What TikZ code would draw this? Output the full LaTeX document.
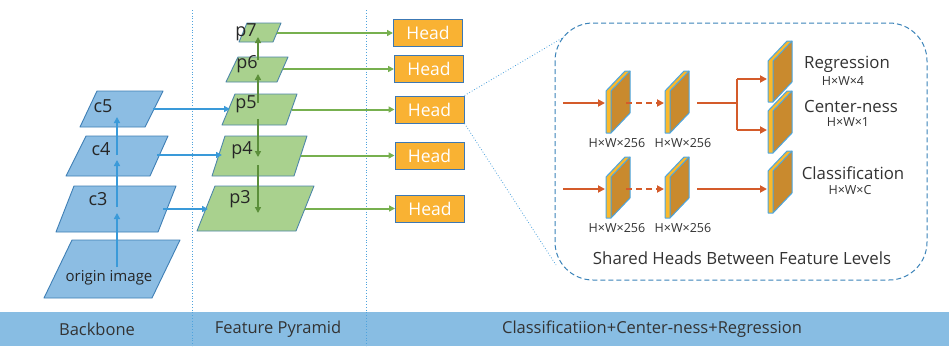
\documentclass[tikz,border=0pt]{standalone}
\usepackage{fontspec}
\setmainfont{Open Sans}
\usetikzlibrary{arrows.meta}
\definecolor{cfill}{HTML}{8CBDE3}
\definecolor{cedge}{HTML}{3F7FB5}
\definecolor{pfill}{HTML}{A9D18E}
\definecolor{pedge}{HTML}{4E87A8}
\definecolor{barrow}{HTML}{3A9AD9}
\definecolor{garrow}{HTML}{77B04F}
\definecolor{gdark}{HTML}{5B8F3A}
\definecolor{headfill}{HTML}{F9B233}
\definecolor{headedge}{HTML}{3C78B4}
\definecolor{oarrow}{HTML}{D45B2A}
\definecolor{slabY}{HTML}{FBB92B}
\definecolor{slabB}{HTML}{C98A2E}
\definecolor{slabE}{HTML}{4BA5E0}
\definecolor{band}{HTML}{88BDE3}
\definecolor{sep}{HTML}{4FA3DD}
\definecolor{boxc}{HTML}{3B83B9}
\definecolor{txt}{HTML}{333333}
\newcommand{\featmap}[4]{% name, x, y (front top-left), height
  \fill[slabB] (#2+5,#3) -- (#2+24,#3-20) -- (#2+24,#3+#4-20) -- (#2+5,#3+#4) -- cycle;
  \fill[slabY] (#2,#3) rectangle (#2+5,#3+#4);
  \fill[slabY] (#2,#3) -- (#2+5,#3) -- (#2+24,#3-20) -- (#2+19,#3-20) -- cycle;
  \draw[slabE,line width=1pt,line join=round] (#2,#3+#4) -- (#2,#3) -- (#2+19,#3-20) -- (#2+24,#3-20) -- (#2+24,#3+#4-20) -- (#2+5,#3+#4) -- cycle;
  \draw[slabE,line width=1pt] (#2+5,#3+#4) -- (#2+5,#3) -- (#2+24,#3-20);
  \coordinate (#1) at (#2,#3);
}
\tikzset{
  cpar/.style={fill=cfill,draw=cedge,line width=0.9pt,line join=round},
  ppar/.style={fill=pfill,draw=pedge,line width=0.9pt,line join=round},
  lbl/.style={font=\fontsize{18}{18}\selectfont,text=black!85,inner sep=0pt},
  blue arrow/.style={barrow,line width=1.8pt,-{Triangle[length=6pt,width=6pt]}},
  green arrow/.style={gdark,line width=1.8pt,-{Triangle[length=6pt,width=6pt]}},
  green line/.style={garrow,line width=2pt,-{Triangle[length=6pt,width=6pt]}},
  headbox/.style={rectangle,fill=headfill,draw=headedge,line width=1pt,minimum width=69pt,minimum height=27pt,inner sep=0pt,text=white,font=\fontsize{17.5}{17.5}\selectfont},
  orange arrow/.style={oarrow,line width=2pt,-{Triangle[length=7pt,width=7pt]}},
  dimlbl/.style={font=\fontsize{12.5}{12.5}\selectfont,text=txt,inner sep=0pt},
  outlbl/.style={font=\fontsize{16.8}{16.8}\selectfont,text=txt,inner sep=0pt},
  bandlbl/.style={font=\fontsize{16.5}{16.5}\selectfont,text=txt,inner sep=0pt},
}
\begin{document}
\begin{tikzpicture}[x=1pt,y=-1pt]
\useasboundingbox (0,0) rectangle (949,346);
\fill[white] (0,0) rectangle (949,346);
% band
\fill[band] (0,312) rectangle (949,346);
\node[bandlbl] (bb) at (97,329) {Backbone};
\node[bandlbl] (bfp) at (278,329) {Feature Pyramid};
\node[bandlbl] (bcl) at (652,329) {Classificatiion+Center-ness+Regression};
% separators
\draw[sep,line width=0.8pt,dotted] (192,10) -- (192,346);
\draw[sep,line width=0.8pt,dotted] (366,10) -- (366,346);
% backbone
\draw[cpar] (44,298) -- (152,298) -- (180,240) -- (72,240) -- cycle;
\draw[cpar] (56,232) -- (158,232) -- (176,186) -- (74,186) -- cycle;
\draw[cpar] (66,176) -- (150,176) -- (168,136) -- (86,136) -- cycle;
\draw[cpar] (80,127) -- (145,127) -- (163,91) -- (97,91) -- cycle;
\node[lbl,font=\fontsize{15}{15}\selectfont] (oi) at (109,278) {origin image};
\node[lbl] (c3) at (98,199) {c3};
\node[lbl] (c4) at (101,149) {c4};
\node[lbl] (c5) at (103,106) {c5};
% pyramid
\draw[ppar] (197,231) -- (296,231) -- (314,186) -- (215,186) -- cycle;
\draw[ppar] (212,176) -- (294,176) -- (307,136) -- (225,136) -- cycle;
\draw[ppar] (222,125) -- (286,125) -- (297,94) -- (235,94) -- cycle;
\draw[ppar] (226,82) -- (277,82) -- (288,57) -- (238,57) -- cycle;
\draw[ppar] (239,42) -- (273,42) -- (281,23) -- (247,23) -- cycle;
\node[lbl] (p3) at (240,199) {p3};
\node[lbl] (p4) at (242,150) {p4};
\node[lbl] (p5) at (246,104) {p5};
\node[lbl] (p6) at (247,64) {p6};
\node[lbl] (p7) at (246,32) {p7};
% backbone arrows
\coordinate (oa) at (117,267); \coordinate (oat) at (117,213);
\coordinate (c3a) at (117,207); \coordinate (c3t) at (117,160);
\coordinate (c4a) at (117,155); \coordinate (c4t) at (117,117);
\draw[blue arrow] (oa) -- (oat);
\draw[blue arrow] (c3a) -- (c3t);
\draw[blue arrow] (c4a) -- (c4t);
\coordinate (c5r) at (153,109); \coordinate (p5l) at (230,109);
\coordinate (c4r) at (157,155); \coordinate (p4l) at (222,155);
\coordinate (c3r) at (163,209); \coordinate (p3l) at (208,209);
\draw[blue arrow] (c5r) -- (p5l);
\draw[blue arrow] (c4r) -- (p4l);
\draw[blue arrow] (c3r) -- (p3l);
% pyramid arrows
\coordinate (g1) at (258,103); \coordinate (g1t) at (258,74);
\coordinate (g2) at (258,60); \coordinate (g2t) at (258,37);
\coordinate (g3) at (258,119); \coordinate (g3t) at (258,157);
\coordinate (g4) at (258,165); \coordinate (g4t) at (258,213);
\draw[green arrow] (g1) -- (g1t);
\draw[green arrow] (g2) -- (g2t);
\draw[green arrow] (g3) -- (g3t);
\draw[green arrow] (g4) -- (g4t);
% heads
\node[headbox] (hd7) at (428,33) {Head};
\node[headbox] (hd6) at (429,69) {Head};
\node[headbox] (hd5) at (429.5,109.5) {Head};
\node[headbox] (hd4) at (429.5,155.5) {Head};
\node[headbox] (hd3) at (430,208.5) {Head};
\coordinate (p7r) at (277,33); \coordinate (p6r) at (283,69);
\coordinate (p5r) at (292,109.5); \coordinate (p4r) at (301,155.5);
\coordinate (p3r) at (305,208.5);
\draw[green line] (p7r) -- (hd7.west);
\draw[green line] (p6r) -- (hd6.west);
\draw[green line] (p5r) -- (hd5.west);
\draw[green line] (p4r) -- (hd4.west);
\draw[green line] (p3r) -- (hd3.west);
% zoom lines
\coordinate (ztl) at (564,37); \coordinate (zbl) at (556,265);
\draw[sep,line width=0.8pt,dotted] (hd5.north east) -- (ztl);
\draw[sep,line width=0.8pt,dotted] (hd5.south east) -- (zbl);
% shared head box
\draw[boxc,line width=1pt,dash pattern=on 5pt off 3pt,rounded corners=38pt] (555,23) rectangle (927,280);
% feature maps
\featmap{s11}{606}{91}{42}
\featmap{s12}{665}{91}{42}
\featmap{s21}{606}{177}{41}
\featmap{s22}{665}{177}{41}
\featmap{oreg}{768}{61}{41}
\featmap{octr}{768}{111}{42}
\featmap{ocls}{768}{171}{42}
% orange arrows row 1
\coordinate (in1) at (563,103); \coordinate (t11) at (605,103);
\coordinate (d1) at (626,103); \coordinate (t12) at (664,103);
\coordinate (o1) at (697,103); \coordinate (br1) at (737,103);
\coordinate (br1u) at (737,79); \coordinate (br1d) at (737,130);
\coordinate (treg) at (767,79); \coordinate (tctr) at (767,130);
\draw[orange arrow] (in1) -- (t11);
\draw[orange arrow,dash pattern=on 6pt off 4pt] (d1) -- (t12);
\draw[oarrow,line width=2pt] (o1) -- (br1);
\draw[oarrow,line width=2pt] (br1u) -- (br1d);
\draw[orange arrow] (br1u) -- (treg);
\draw[orange arrow] (br1d) -- (tctr);
% orange arrows row 2
\coordinate (in2) at (563,189); \coordinate (t21) at (605,189);
\coordinate (d2) at (626,189); \coordinate (t22) at (664,189);
\coordinate (o2) at (697,189); \coordinate (tcls) at (767,189);
\draw[orange arrow] (in2) -- (t21);
\draw[orange arrow,dash pattern=on 6pt off 4pt] (d2) -- (t22);
\draw[orange arrow] (o2) -- (tcls);
% labels
\node[dimlbl] (l11) at (617,143) {H×W×256};
\node[dimlbl] (l12) at (683,143) {H×W×256};
\node[dimlbl] (l21) at (617,228) {H×W×256};
\node[dimlbl] (l22) at (683,228) {H×W×256};
\node[outlbl] (treglbl) at (847,64) {Regression};
\node[dimlbl] (treg2) at (843,81) {H×W×4};
\node[outlbl] (tctrlbl) at (851,106) {Center-ness};
\node[dimlbl] (tctr2) at (848,122) {H×W×1};
\node[outlbl] (tclslbl) at (853,173) {Classification};
\node[dimlbl] (tcls2) at (850,190) {H×W×C};
\node[outlbl] (shared) at (742,258) {Shared Heads Between Feature Levels};
\end{tikzpicture}
\end{document}
